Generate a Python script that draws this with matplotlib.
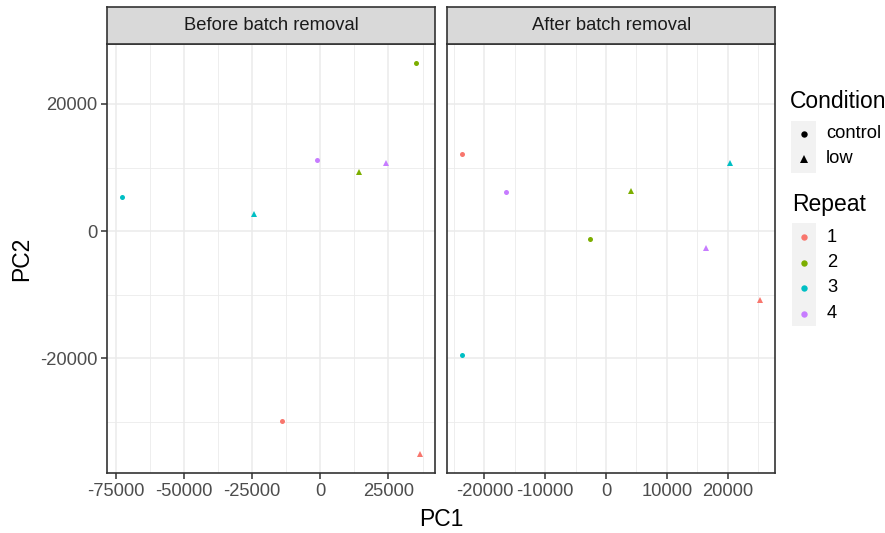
import matplotlib
matplotlib.use("Agg")
import matplotlib.pyplot as plt
import numpy as np
from matplotlib.patches import Rectangle
from matplotlib.ticker import MultipleLocator

plt.rcParams["font.family"] = ["Liberation Sans", "DejaVu Sans"]

# PCA coordinates per sample (Repeat x Condition)
repeats = ["1", "2", "3", "4"]
conditions = ["control", "low"]
repeat_colors = ["#F8766D", "#7CAE00", "#00BFC4", "#C77CFF"]
condition_markers = ["o", "^"]

before_pc1_control = [-13909, 35139, -72730, -1098]
before_pc2_control = [-29811, 26368, 5346, 11164]
before_pc1_low = [36603, 14275, -24524, 24268]
before_pc2_low = [-35000, 9277, 2673, 10755]

after_pc1_control = [-23656, -2557, -23656, -16492]
after_pc2_control = [12060, -1195, -19497, 6085]
after_pc1_low = [25361, 4098, 20393, 16508]
after_pc2_low = [-10786, 6242, 10755, -2610]

panel_titles = ["Before batch removal", "After batch removal"]
x_major = [25000, 10000]
y_major = 20000

W, H = 885, 533
fig = plt.figure(figsize=(W / 100, H / 100), dpi=100)

BORDER = "#333333"
GRID = "#EBEBEB"
TICKTXT = "#4D4D4D"


def expand(vals, frac=0.05):
    lo, hi = min(vals), max(vals)
    pad = (hi - lo) * frac
    return lo - pad, hi + pad


panels = [
    (before_pc1_control, before_pc2_control, before_pc1_low, before_pc2_low),
    (after_pc1_control, after_pc2_control, after_pc1_low, after_pc2_low),
]
all_y = before_pc2_control + before_pc2_low + after_pc2_control + after_pc2_low
ylim = expand(all_y)

panel_px = [(107.3, 435.0), (447.3, 775.0)]
top_px, bot_px = 44.0, 473.0
strip_top = 7.0

for i, (pcs, (x0, x1)) in enumerate(zip(panels, panel_px)):
    pc1c, pc2c, pc1l, pc2l = pcs
    ax = fig.add_axes([x0 / W, (H - bot_px) / H, (x1 - x0) / W, (bot_px - top_px) / H])
    ax.set_facecolor("white")
    ax.set_xlim(*expand(pc1c + pc1l))
    ax.set_ylim(*ylim)
    ax.xaxis.set_major_locator(MultipleLocator(x_major[i]))
    ax.xaxis.set_minor_locator(MultipleLocator(x_major[i] / 2))
    ax.yaxis.set_major_locator(MultipleLocator(y_major))
    ax.yaxis.set_minor_locator(MultipleLocator(y_major / 2))
    ax.grid(which="major", color=GRID, linewidth=1.1, zorder=0)
    ax.grid(which="minor", color=GRID, linewidth=0.6, zorder=0)
    ax.set_axisbelow(True)
    for s in ax.spines.values():
        s.set_color(BORDER)
        s.set_linewidth(1.2)
    ax.tick_params(which="minor", length=0)
    ax.tick_params(which="major", length=4.5, width=1.1, color=BORDER,
                   labelsize=13.2, labelcolor=TICKTXT, pad=2.5)
    ax.xaxis.set_major_formatter(matplotlib.ticker.FuncFormatter(lambda v, p: f"{int(round(v))}"))
    ax.yaxis.set_major_formatter(matplotlib.ticker.FuncFormatter(lambda v, p: f"{int(round(v))}"))
    if i > 0:
        ax.tick_params(axis="y", which="both", left=False, labelleft=False)

    for r in range(len(repeats)):
        ax.plot(pc1c[r], pc2c[r], linestyle="none", marker=condition_markers[0],
                markersize=3.6, color=repeat_colors[r], markeredgewidth=0, zorder=3)
        ax.plot(pc1l[r], pc2l[r], linestyle="none", marker=condition_markers[1],
                markersize=4.2, color=repeat_colors[r], markeredgewidth=0, zorder=3)

    # facet strip
    sax = fig.add_axes([x0 / W, (H - top_px) / H, (x1 - x0) / W, (top_px - strip_top) / H])
    sax.set_facecolor("#D9D9D9")
    sax.set_xticks([])
    sax.set_yticks([])
    for s in sax.spines.values():
        s.set_color(BORDER)
        s.set_linewidth(1.2)
    sax.text(0.5, 0.5, panel_titles[i], transform=sax.transAxes, ha="center",
             va="center", fontsize=13.2, color="#1A1A1A")

# axis titles
fig.text(441 / W, 1 - 519 / H, "PC1", ha="center", va="center", fontsize=16.5)
fig.text(22 / W, 1 - 258.5 / H, "PC2", ha="center", va="center", fontsize=16.5,
         rotation=90)

# legends drawn in an overlay in pixel units
lax = fig.add_axes([0, 0, 1, 1], zorder=5)
lax.set_xlim(0, W)
lax.set_ylim(H, 0)
lax.axis("off")
lax.patch.set_alpha(0)

lax.text(790, 101, "Condition", ha="left", va="center", fontsize=16.5)
lax.add_patch(Rectangle((791, 121), 24.5, 52, facecolor="#F2F2F2", edgecolor="none"))
for j, (lab, mk) in enumerate(zip(conditions, condition_markers)):
    yy = 133.5 + j * 25
    lax.plot(803.5, yy, linestyle="none", marker=mk, markersize=4.6 if mk == "o" else 5.4,
             color="black", markeredgewidth=0)
    lax.text(826, yy, lab, ha="left", va="center", fontsize=13.2)

lax.text(792, 204, "Repeat", ha="left", va="center", fontsize=16.5)
lax.add_patch(Rectangle((791.5, 223), 24.5, 103, facecolor="#F2F2F2", edgecolor="none"))
for j, (lab, col) in enumerate(zip(repeats, repeat_colors)):
    yy = 237 + j * 25.5
    lax.plot(804, yy, linestyle="none", marker="o", markersize=4.6, color=col,
             markeredgewidth=0)
    lax.text(827, yy, lab, ha="left", va="center", fontsize=13.2)

fig.savefig("out.png", dpi=100)
